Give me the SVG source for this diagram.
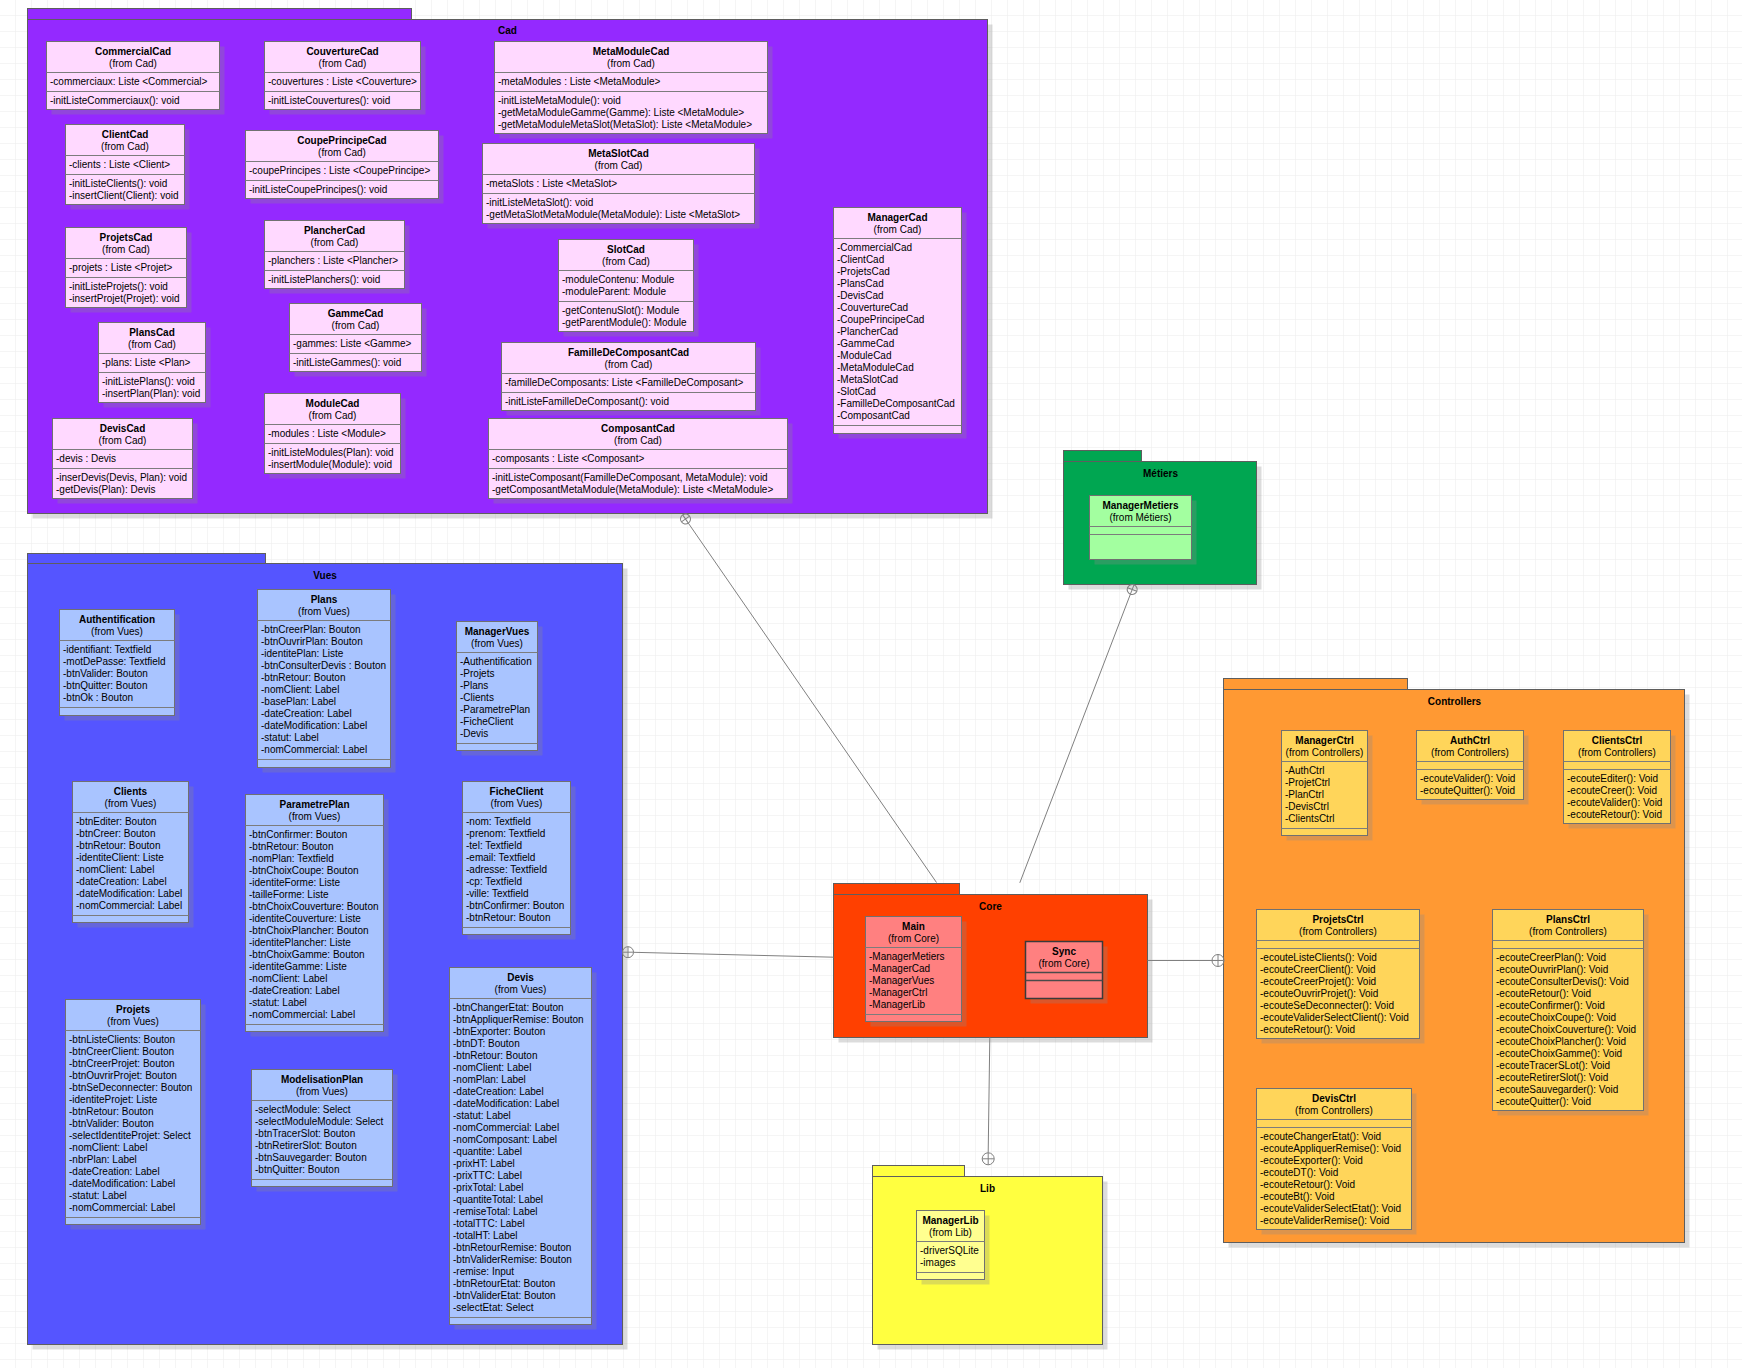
<svg xmlns="http://www.w3.org/2000/svg" width="1742" height="1368" viewBox="0 0 1742 1368">
<defs>
<pattern id="grid" x="15" y="15" width="16" height="16" patternUnits="userSpaceOnUse">
<path d="M16 0H0V16" fill="none" stroke="#ececec" stroke-width="1"/>
</pattern>
<style>
.pk{stroke:#5e5e5e;stroke-width:1}
.cl{stroke:#707070;stroke-width:1}
.sp{stroke:#7c7c7c;stroke-width:1}
.sh{fill:#8a8a8a;fill-opacity:0.3;stroke:none}
.n{font-family:"Liberation Sans",Arial,sans-serif;font-size:10px;font-weight:bold;text-anchor:middle;fill:#000}
.f{font-family:"Liberation Sans",Arial,sans-serif;font-size:10px;text-anchor:middle;fill:#000}
.a{font-family:"Liberation Sans",Arial,sans-serif;font-size:10px;fill:#000}
.pt{font-family:"Liberation Sans",Arial,sans-serif;font-size:10px;font-weight:bold;text-anchor:middle;fill:#000}
.cad{fill:#9429ff}.cadc{fill:#ffd9ff}
.vue{fill:#5555ff}.vuec{fill:#a9c4ff}
.ctl{fill:#ff9933}.ctlc{fill:#ffd55a}
.met{fill:#00a651}.metc{fill:#a3ffa0}
.cor{fill:#ff4000}.corc{fill:#ff8080}
.lib{fill:#ffff40}.libc{fill:#ffff90}
.cn{stroke:#808080;stroke-width:1;fill:none}
.ci{stroke:#808080;stroke-width:1;fill:#fff;fill-opacity:0}
</style>
</defs>
<rect width="1742" height="1368" fill="#fff"/>
<rect width="1742" height="1368" fill="url(#grid)"/>
<g transform="translate(0.5 0.5)">

<!-- Packages -->
<g id="pkg-Cad">
<rect class="sh" x="32" y="24" width="960" height="494"/>
<rect class="cad pk" x="27" y="8" width="384" height="11"/>
<rect class="cad pk" x="27" y="19" width="960" height="494"/>
<text class="pt" x="507" y="33.5">Cad</text>
</g>
<g id="pkg-Vues">
<rect class="sh" x="32" y="568" width="595" height="781"/>
<rect class="vue pk" x="27" y="553" width="238" height="10"/>
<rect class="vue pk" x="27" y="563" width="595" height="781"/>
<text class="pt" x="324.5" y="578">Vues</text>
</g>
<g id="pkg-Controllers">
<rect class="sh" x="1228" y="694" width="461" height="553"/>
<rect class="ctl pk" x="1223" y="678" width="184" height="11"/>
<rect class="ctl pk" x="1223" y="689" width="461" height="553"/>
<text class="pt" x="1454" y="704">Controllers</text>
</g>
<g id="pkg-Metiers">
<rect class="sh" x="1068" y="466" width="193" height="123"/>
<rect class="met pk" x="1063" y="450" width="78" height="11"/>
<rect class="met pk" x="1063" y="461" width="193" height="123"/>
<text class="pt" x="1160" y="476">Métiers</text>
</g>
<g id="pkg-Core">
<rect class="sh" x="838" y="899" width="314" height="143"/>
<rect class="cor pk" x="833" y="883" width="126" height="11"/>
<rect class="cor pk" x="833" y="894" width="314" height="143"/>
<text class="pt" x="990" y="909">Core</text>
</g>
<g id="pkg-Lib">
<rect class="sh" x="877" y="1181" width="230" height="168"/>
<rect class="lib pk" x="872" y="1165" width="92" height="11"/>
<rect class="lib pk" x="872" y="1176" width="230" height="168"/>
<text class="pt" x="987" y="1191">Lib</text>
</g>

<!-- Cad classes -->
<g id="CommercialCad">
<rect class="sh" x="51" y="46" width="173" height="68"/>
<rect class="cadc cl" x="46" y="41" width="173" height="68"/>
<line class="sp" x1="46" y1="72" x2="219" y2="72"/><line class="sp" x1="46" y1="91" x2="219" y2="91"/>
<text class="n" x="132.5" y="54.5">CommercialCad</text><text class="f" x="132.5" y="66.5">(from Cad)</text>
<text class="a" x="49.5" y="84.5">-commerciaux: Liste &lt;Commercial&gt;</text>
<text class="a" x="49.5" y="103.5">-initListeCommerciaux(): void</text>
</g>
<g id="CouvertureCad">
<rect class="sh" x="269" y="46" width="156" height="68"/>
<rect class="cadc cl" x="264" y="41" width="156" height="68"/>
<line class="sp" x1="264" y1="72" x2="420" y2="72"/><line class="sp" x1="264" y1="91" x2="420" y2="91"/>
<text class="n" x="342" y="54.5">CouvertureCad</text><text class="f" x="342" y="66.5">(from Cad)</text>
<text class="a" x="267.5" y="84.5">-couvertures : Liste &lt;Couverture&gt;</text>
<text class="a" x="267.5" y="103.5">-initListeCouvertures(): void</text>
</g>
<g id="ClientCad">
<rect class="sh" x="70" y="129" width="119" height="80"/>
<rect class="cadc cl" x="65" y="124" width="119" height="80"/>
<line class="sp" x1="65" y1="155" x2="184" y2="155"/><line class="sp" x1="65" y1="174" x2="184" y2="174"/>
<text class="n" x="124.5" y="137.5">ClientCad</text><text class="f" x="124.5" y="149.5">(from Cad)</text>
<text class="a" x="68.5" y="167.5">-clients : Liste &lt;Client&gt;</text>
<text class="a" x="68.5" y="186.5">-initListeClients(): void</text>
<text class="a" x="68.5" y="198.5">-insertClient(Client): void</text>
</g>
<g id="CoupePrincipeCad">
<rect class="sh" x="250" y="135" width="193" height="68"/>
<rect class="cadc cl" x="245" y="130" width="193" height="68"/>
<line class="sp" x1="245" y1="161" x2="438" y2="161"/><line class="sp" x1="245" y1="180" x2="438" y2="180"/>
<text class="n" x="341.5" y="143.5">CoupePrincipeCad</text><text class="f" x="341.5" y="155.5">(from Cad)</text>
<text class="a" x="248.5" y="173.5">-coupePrincipes : Liste &lt;CoupePrincipe&gt;</text>
<text class="a" x="248.5" y="192.5">-initListeCoupePrincipes(): void</text>
</g>
<g id="ProjetsCad">
<rect class="sh" x="70" y="232" width="121" height="80"/>
<rect class="cadc cl" x="65" y="227" width="121" height="80"/>
<line class="sp" x1="65" y1="258" x2="186" y2="258"/><line class="sp" x1="65" y1="277" x2="186" y2="277"/>
<text class="n" x="125.5" y="240.5">ProjetsCad</text><text class="f" x="125.5" y="252.5">(from Cad)</text>
<text class="a" x="68.5" y="270.5">-projets : Liste &lt;Projet&gt;</text>
<text class="a" x="68.5" y="289.5">-initListeProjets(): void</text>
<text class="a" x="68.5" y="301.5">-insertProjet(Projet): void</text>
</g>
<g id="PlancherCad">
<rect class="sh" x="269" y="225" width="140" height="68"/>
<rect class="cadc cl" x="264" y="220" width="140" height="68"/>
<line class="sp" x1="264" y1="251" x2="404" y2="251"/><line class="sp" x1="264" y1="270" x2="404" y2="270"/>
<text class="n" x="334" y="233.5">PlancherCad</text><text class="f" x="334" y="245.5">(from Cad)</text>
<text class="a" x="267.5" y="263.5">-planchers : Liste &lt;Plancher&gt;</text>
<text class="a" x="267.5" y="282.5">-initListePlanchers(): void</text>
</g>
<g id="PlansCad">
<rect class="sh" x="103" y="327" width="107" height="80"/>
<rect class="cadc cl" x="98" y="322" width="107" height="80"/>
<line class="sp" x1="98" y1="353" x2="205" y2="353"/><line class="sp" x1="98" y1="372" x2="205" y2="372"/>
<text class="n" x="151.5" y="335.5">PlansCad</text><text class="f" x="151.5" y="347.5">(from Cad)</text>
<text class="a" x="101.5" y="365.5">-plans: Liste &lt;Plan&gt;</text>
<text class="a" x="101.5" y="384.5">-initListePlans(): void</text>
<text class="a" x="101.5" y="396.5">-insertPlan(Plan): void</text>
</g>
<g id="GammeCad">
<rect class="sh" x="294" y="308" width="132" height="68"/>
<rect class="cadc cl" x="289" y="303" width="132" height="68"/>
<line class="sp" x1="289" y1="334" x2="421" y2="334"/><line class="sp" x1="289" y1="353" x2="421" y2="353"/>
<text class="n" x="355" y="316.5">GammeCad</text><text class="f" x="355" y="328.5">(from Cad)</text>
<text class="a" x="292.5" y="346.5">-gammes: Liste &lt;Gamme&gt;</text>
<text class="a" x="292.5" y="365.5">-initListeGammes(): void</text>
</g>
<g id="DevisCad">
<rect class="sh" x="57" y="423" width="140" height="80"/>
<rect class="cadc cl" x="52" y="418" width="140" height="80"/>
<line class="sp" x1="52" y1="449" x2="192" y2="449"/><line class="sp" x1="52" y1="468" x2="192" y2="468"/>
<text class="n" x="122" y="431.5">DevisCad</text><text class="f" x="122" y="443.5">(from Cad)</text>
<text class="a" x="55.5" y="461.5">-devis : Devis</text>
<text class="a" x="55.5" y="480.5">-inserDevis(Devis, Plan): void</text>
<text class="a" x="55.5" y="492.5">-getDevis(Plan): Devis</text>
</g>
<g id="ModuleCad">
<rect class="sh" x="269" y="398" width="136" height="80"/>
<rect class="cadc cl" x="264" y="393" width="136" height="80"/>
<line class="sp" x1="264" y1="424" x2="400" y2="424"/><line class="sp" x1="264" y1="443" x2="400" y2="443"/>
<text class="n" x="332" y="406.5">ModuleCad</text><text class="f" x="332" y="418.5">(from Cad)</text>
<text class="a" x="267.5" y="436.5">-modules : Liste &lt;Module&gt;</text>
<text class="a" x="267.5" y="455.5">-initListeModules(Plan): void</text>
<text class="a" x="267.5" y="467.5">-insertModule(Module): void</text>
</g>
<g id="MetaModuleCad">
<rect class="sh" x="499" y="46" width="273" height="92"/>
<rect class="cadc cl" x="494" y="41" width="273" height="92"/>
<line class="sp" x1="494" y1="72" x2="767" y2="72"/><line class="sp" x1="494" y1="91" x2="767" y2="91"/>
<text class="n" x="630.5" y="54.5">MetaModuleCad</text><text class="f" x="630.5" y="66.5">(from Cad)</text>
<text class="a" x="497.5" y="84.5">-metaModules : Liste &lt;MetaModule&gt;</text>
<text class="a" x="497.5" y="103.5">-initListeMetaModule(): void</text>
<text class="a" x="497.5" y="115.5">-getMetaModuleGamme(Gamme): Liste &lt;MetaModule&gt;</text>
<text class="a" x="497.5" y="127.5">-getMetaModuleMetaSlot(MetaSlot): Liste &lt;MetaModule&gt;</text>
</g>
<g id="MetaSlotCad">
<rect class="sh" x="487" y="148" width="272" height="80"/>
<rect class="cadc cl" x="482" y="143" width="272" height="80"/>
<line class="sp" x1="482" y1="174" x2="754" y2="174"/><line class="sp" x1="482" y1="193" x2="754" y2="193"/>
<text class="n" x="618" y="156.5">MetaSlotCad</text><text class="f" x="618" y="168.5">(from Cad)</text>
<text class="a" x="485.5" y="186.5">-metaSlots : Liste &lt;MetaSlot&gt;</text>
<text class="a" x="485.5" y="205.5">-initListeMetaSlot(): void</text>
<text class="a" x="485.5" y="217.5">-getMetaSlotMetaModule(MetaModule): Liste &lt;MetaSlot&gt;</text>
</g>
<g id="SlotCad">
<rect class="sh" x="563" y="244" width="135" height="92"/>
<rect class="cadc cl" x="558" y="239" width="135" height="92"/>
<line class="sp" x1="558" y1="270" x2="693" y2="270"/><line class="sp" x1="558" y1="301" x2="693" y2="301"/>
<text class="n" x="625.5" y="252.5">SlotCad</text><text class="f" x="625.5" y="264.5">(from Cad)</text>
<text class="a" x="561.5" y="282.5">-moduleContenu: Module</text>
<text class="a" x="561.5" y="294.5">-moduleParent: Module</text>
<text class="a" x="561.5" y="313.5">-getContenuSlot(): Module</text>
<text class="a" x="561.5" y="325.5">-getParentModule(): Module</text>
</g>
<g id="FamilleDeComposantCad">
<rect class="sh" x="506" y="347" width="254" height="68"/>
<rect class="cadc cl" x="501" y="342" width="254" height="68"/>
<line class="sp" x1="501" y1="373" x2="755" y2="373"/><line class="sp" x1="501" y1="392" x2="755" y2="392"/>
<text class="n" x="628" y="355.5">FamilleDeComposantCad</text><text class="f" x="628" y="367.5">(from Cad)</text>
<text class="a" x="504.5" y="385.5">-familleDeComposants: Liste &lt;FamilleDeComposant&gt;</text>
<text class="a" x="504.5" y="404.5">-initListeFamilleDeComposant(): void</text>
</g>
<g id="ComposantCad">
<rect class="sh" x="493" y="423" width="299" height="80"/>
<rect class="cadc cl" x="488" y="418" width="299" height="80"/>
<line class="sp" x1="488" y1="449" x2="787" y2="449"/><line class="sp" x1="488" y1="468" x2="787" y2="468"/>
<text class="n" x="637.5" y="431.5">ComposantCad</text><text class="f" x="637.5" y="443.5">(from Cad)</text>
<text class="a" x="491.5" y="461.5">-composants : Liste &lt;Composant&gt;</text>
<text class="a" x="491.5" y="480.5">-initListeComposant(FamilleDeComposant, MetaModule): void</text>
<text class="a" x="491.5" y="492.5">-getComposantMetaModule(MetaModule): Liste &lt;MetaModule&gt;</text>
</g>
<g id="ManagerCad">
<rect class="sh" x="838" y="212" width="128" height="226"/>
<rect class="cadc cl" x="833" y="207" width="128" height="226"/>
<line class="sp" x1="833" y1="238" x2="961" y2="238"/><line class="sp" x1="833" y1="425" x2="961" y2="425"/>
<text class="n" x="897" y="220.5">ManagerCad</text><text class="f" x="897" y="232.5">(from Cad)</text>
<text class="a" y="250.5"><tspan x="836.5">-CommercialCad</tspan><tspan x="836.5" dy="12">-ClientCad</tspan><tspan x="836.5" dy="12">-ProjetsCad</tspan><tspan x="836.5" dy="12">-PlansCad</tspan><tspan x="836.5" dy="12">-DevisCad</tspan><tspan x="836.5" dy="12">-CouvertureCad</tspan><tspan x="836.5" dy="12">-CoupePrincipeCad</tspan><tspan x="836.5" dy="12">-PlancherCad</tspan><tspan x="836.5" dy="12">-GammeCad</tspan><tspan x="836.5" dy="12">-ModuleCad</tspan><tspan x="836.5" dy="12">-MetaModuleCad</tspan><tspan x="836.5" dy="12">-MetaSlotCad</tspan><tspan x="836.5" dy="12">-SlotCad</tspan><tspan x="836.5" dy="12">-FamilleDeComposantCad</tspan><tspan x="836.5" dy="12">-ComposantCad</tspan></text>
</g>

<!-- Vues classes -->
<g id="Authentification">
<rect class="sh" x="64" y="614" width="115" height="106"/>
<rect class="vuec cl" x="59" y="609" width="115" height="106"/>
<line class="sp" x1="59" y1="640" x2="174" y2="640"/><line class="sp" x1="59" y1="707" x2="174" y2="707"/>
<text class="n" x="116.5" y="622.5">Authentification</text><text class="f" x="116.5" y="634.5">(from Vues)</text>
<text class="a" y="652.5"><tspan x="62.5">-identifiant: Textfield</tspan><tspan x="62.5" dy="12">-motDePasse: Textfield</tspan><tspan x="62.5" dy="12">-btnValider: Bouton</tspan><tspan x="62.5" dy="12">-btnQuitter: Bouton</tspan><tspan x="62.5" dy="12">-btnOk : Bouton</tspan></text>
</g>
<g id="Plans">
<rect class="sh" x="262" y="594" width="133" height="178"/>
<rect class="vuec cl" x="257" y="589" width="133" height="178"/>
<line class="sp" x1="257" y1="620" x2="390" y2="620"/><line class="sp" x1="257" y1="759" x2="390" y2="759"/>
<text class="n" x="323.5" y="602.5">Plans</text><text class="f" x="323.5" y="614.5">(from Vues)</text>
<text class="a" y="632.5"><tspan x="260.5">-btnCreerPlan: Bouton</tspan><tspan x="260.5" dy="12">-btnOuvrirPlan: Bouton</tspan><tspan x="260.5" dy="12">-identitePlan: Liste</tspan><tspan x="260.5" dy="12">-btnConsulterDevis : Bouton</tspan><tspan x="260.5" dy="12">-btnRetour: Bouton</tspan><tspan x="260.5" dy="12">-nomClient: Label</tspan><tspan x="260.5" dy="12">-basePlan: Label</tspan><tspan x="260.5" dy="12">-dateCreation: Label</tspan><tspan x="260.5" dy="12">-dateModification: Label</tspan><tspan x="260.5" dy="12">-statut: Label</tspan><tspan x="260.5" dy="12">-nomCommercial: Label</tspan></text>
</g>
<g id="ManagerVues">
<rect class="sh" x="461" y="626" width="81" height="129"/>
<rect class="vuec cl" x="456" y="621" width="81" height="129"/>
<line class="sp" x1="456" y1="652" x2="537" y2="652"/><line class="sp" x1="456" y1="743" x2="537" y2="743"/>
<text class="n" x="496.5" y="634.5">ManagerVues</text><text class="f" x="496.5" y="646.5">(from Vues)</text>
<text class="a" y="664.5"><tspan x="459.5">-Authentification</tspan><tspan x="459.5" dy="12">-Projets</tspan><tspan x="459.5" dy="12">-Plans</tspan><tspan x="459.5" dy="12">-Clients</tspan><tspan x="459.5" dy="12">-ParametrePlan</tspan><tspan x="459.5" dy="12">-FicheClient</tspan><tspan x="459.5" dy="12">-Devis</tspan></text>
</g>
<g id="Clients">
<rect class="sh" x="77" y="786" width="116" height="141"/>
<rect class="vuec cl" x="72" y="781" width="116" height="141"/>
<line class="sp" x1="72" y1="812" x2="188" y2="812"/><line class="sp" x1="72" y1="915" x2="188" y2="915"/>
<text class="n" x="130" y="794.5">Clients</text><text class="f" x="130" y="806.5">(from Vues)</text>
<text class="a" y="824.5"><tspan x="75.5">-btnEditer: Bouton</tspan><tspan x="75.5" dy="12">-btnCreer: Bouton</tspan><tspan x="75.5" dy="12">-btnRetour: Bouton</tspan><tspan x="75.5" dy="12">-identiteClient: Liste</tspan><tspan x="75.5" dy="12">-nomClient: Label</tspan><tspan x="75.5" dy="12">-dateCreation: Label</tspan><tspan x="75.5" dy="12">-dateModification: Label</tspan><tspan x="75.5" dy="12">-nomCommercial: Label</tspan></text>
</g>
<g id="ParametrePlan">
<rect class="sh" x="250" y="799" width="138" height="237"/>
<rect class="vuec cl" x="245" y="794" width="138" height="237"/>
<line class="sp" x1="245" y1="825" x2="383" y2="825"/><line class="sp" x1="245" y1="1024" x2="383" y2="1024"/>
<text class="n" x="314" y="807.5">ParametrePlan</text><text class="f" x="314" y="819.5">(from Vues)</text>
<text class="a" y="837.5"><tspan x="248.5">-btnConfirmer: Bouton</tspan><tspan x="248.5" dy="12">-btnRetour: Bouton</tspan><tspan x="248.5" dy="12">-nomPlan: Textfield</tspan><tspan x="248.5" dy="12">-btnChoixCoupe: Bouton</tspan><tspan x="248.5" dy="12">-identiteForme: Liste</tspan><tspan x="248.5" dy="12">-tailleForme: Liste</tspan><tspan x="248.5" dy="12">-btnChoixCouverture: Bouton</tspan><tspan x="248.5" dy="12">-identiteCouverture: Liste</tspan><tspan x="248.5" dy="12">-btnChoixPlancher: Bouton</tspan><tspan x="248.5" dy="12">-identitePlancher: Liste</tspan><tspan x="248.5" dy="12">-btnChoixGamme: Bouton</tspan><tspan x="248.5" dy="12">-identiteGamme: Liste</tspan><tspan x="248.5" dy="12">-nomClient: Label</tspan><tspan x="248.5" dy="12">-dateCreation: Label</tspan><tspan x="248.5" dy="12">-statut: Label</tspan><tspan x="248.5" dy="12">-nomCommercial: Label</tspan></text>
</g>
<g id="FicheClient">
<rect class="sh" x="467" y="786" width="108" height="153"/>
<rect class="vuec cl" x="462" y="781" width="108" height="153"/>
<line class="sp" x1="462" y1="812" x2="570" y2="812"/><line class="sp" x1="462" y1="927" x2="570" y2="927"/>
<text class="n" x="516" y="794.5">FicheClient</text><text class="f" x="516" y="806.5">(from Vues)</text>
<text class="a" y="824.5"><tspan x="465.5">-nom: Textfield</tspan><tspan x="465.5" dy="12">-prenom: Textfield</tspan><tspan x="465.5" dy="12">-tel: Textfield</tspan><tspan x="465.5" dy="12">-email: Textfield</tspan><tspan x="465.5" dy="12">-adresse: Textfield</tspan><tspan x="465.5" dy="12">-cp: Textfield</tspan><tspan x="465.5" dy="12">-ville: Textfield</tspan><tspan x="465.5" dy="12">-btnConfirmer: Bouton</tspan><tspan x="465.5" dy="12">-btnRetour: Bouton</tspan></text>
</g>
<g id="Projets">
<rect class="sh" x="70" y="1004" width="135" height="225"/>
<rect class="vuec cl" x="65" y="999" width="135" height="225"/>
<line class="sp" x1="65" y1="1030" x2="200" y2="1030"/><line class="sp" x1="65" y1="1217" x2="200" y2="1217"/>
<text class="n" x="132.5" y="1012.5">Projets</text><text class="f" x="132.5" y="1024.5">(from Vues)</text>
<text class="a" y="1042.5"><tspan x="68.5">-btnListeClients: Bouton</tspan><tspan x="68.5" dy="12">-btnCreerClient: Bouton</tspan><tspan x="68.5" dy="12">-btnCreerProjet: Bouton</tspan><tspan x="68.5" dy="12">-btnOuvrirProjet: Bouton</tspan><tspan x="68.5" dy="12">-btnSeDeconnecter: Bouton</tspan><tspan x="68.5" dy="12">-identiteProjet: Liste</tspan><tspan x="68.5" dy="12">-btnRetour: Bouton</tspan><tspan x="68.5" dy="12">-btnValider: Bouton</tspan><tspan x="68.5" dy="12">-selectIdentiteProjet: Select</tspan><tspan x="68.5" dy="12">-nomClient: Label</tspan><tspan x="68.5" dy="12">-nbrPlan: Label</tspan><tspan x="68.5" dy="12">-dateCreation: Label</tspan><tspan x="68.5" dy="12">-dateModification: Label</tspan><tspan x="68.5" dy="12">-statut: Label</tspan><tspan x="68.5" dy="12">-nomCommercial: Label</tspan></text>
</g>
<g id="ModelisationPlan">
<rect class="sh" x="256" y="1074" width="141" height="117"/>
<rect class="vuec cl" x="251" y="1069" width="141" height="117"/>
<line class="sp" x1="251" y1="1100" x2="392" y2="1100"/><line class="sp" x1="251" y1="1179" x2="392" y2="1179"/>
<text class="n" x="321.5" y="1082.5">ModelisationPlan</text><text class="f" x="321.5" y="1094.5">(from Vues)</text>
<text class="a" y="1112.5"><tspan x="254.5">-selectModule: Select</tspan><tspan x="254.5" dy="12">-selectModuleModule: Select</tspan><tspan x="254.5" dy="12">-btnTracerSlot: Bouton</tspan><tspan x="254.5" dy="12">-btnRetirerSlot: Bouton</tspan><tspan x="254.5" dy="12">-btnSauvegarder: Bouton</tspan><tspan x="254.5" dy="12">-btnQuitter: Bouton</tspan></text>
</g>
<g id="Devis">
<rect class="sh" x="454" y="972" width="142" height="357"/>
<rect class="vuec cl" x="449" y="967" width="142" height="357"/>
<line class="sp" x1="449" y1="998" x2="591" y2="998"/><line class="sp" x1="449" y1="1317" x2="591" y2="1317"/>
<text class="n" x="520" y="980.5">Devis</text><text class="f" x="520" y="992.5">(from Vues)</text>
<text class="a" y="1010.5"><tspan x="452.5">-btnChangerEtat: Bouton</tspan><tspan x="452.5" dy="12">-btnAppliquerRemise: Bouton</tspan><tspan x="452.5" dy="12">-btnExporter: Bouton</tspan><tspan x="452.5" dy="12">-btnDT: Bouton</tspan><tspan x="452.5" dy="12">-btnRetour: Bouton</tspan><tspan x="452.5" dy="12">-nomClient: Label</tspan><tspan x="452.5" dy="12">-nomPlan: Label</tspan><tspan x="452.5" dy="12">-dateCreation: Label</tspan><tspan x="452.5" dy="12">-dateModification: Label</tspan><tspan x="452.5" dy="12">-statut: Label</tspan><tspan x="452.5" dy="12">-nomCommercial: Label</tspan><tspan x="452.5" dy="12">-nomComposant: Label</tspan><tspan x="452.5" dy="12">-quantite: Label</tspan><tspan x="452.5" dy="12">-prixHT: Label</tspan><tspan x="452.5" dy="12">-prixTTC: Label</tspan><tspan x="452.5" dy="12">-prixTotal: Label</tspan><tspan x="452.5" dy="12">-quantiteTotal: Label</tspan><tspan x="452.5" dy="12">-remiseTotal: Label</tspan><tspan x="452.5" dy="12">-totalTTC: Label</tspan><tspan x="452.5" dy="12">-totalHT: Label</tspan><tspan x="452.5" dy="12">-btnRetourRemise: Bouton</tspan><tspan x="452.5" dy="12">-btnValiderRemise: Bouton</tspan><tspan x="452.5" dy="12">-remise: Input</tspan><tspan x="452.5" dy="12">-btnRetourEtat: Bouton</tspan><tspan x="452.5" dy="12">-btnValiderEtat: Bouton</tspan><tspan x="452.5" dy="12">-selectEtat: Select</tspan></text>
</g>

<!-- Controllers classes -->
<g id="ManagerCtrl">
<rect class="sh" x="1286" y="735" width="86" height="105"/>
<rect class="ctlc cl" x="1281" y="730" width="86" height="105"/>
<line class="sp" x1="1281" y1="761" x2="1367" y2="761"/><line class="sp" x1="1281" y1="828" x2="1367" y2="828"/>
<text class="n" x="1324" y="743.5">ManagerCtrl</text><text class="f" x="1324" y="755.5">(from Controllers)</text>
<text class="a" y="773.5"><tspan x="1284.5">-AuthCtrl</tspan><tspan x="1284.5" dy="12">-ProjetCtrl</tspan><tspan x="1284.5" dy="12">-PlanCtrl</tspan><tspan x="1284.5" dy="12">-DevisCtrl</tspan><tspan x="1284.5" dy="12">-ClientsCtrl</tspan></text>
</g>
<g id="AuthCtrl">
<rect class="sh" x="1421" y="735" width="107" height="69"/>
<rect class="ctlc cl" x="1416" y="730" width="107" height="69"/>
<line class="sp" x1="1416" y1="761" x2="1523" y2="761"/><line class="sp" x1="1416" y1="769" x2="1523" y2="769"/>
<text class="n" x="1469.5" y="743.5">AuthCtrl</text><text class="f" x="1469.5" y="755.5">(from Controllers)</text>
<text class="a" y="781.5"><tspan x="1419.5">-ecouteValider(): Void</tspan><tspan x="1419.5" dy="12">-ecouteQuitter(): Void</tspan></text>
</g>
<g id="ClientsCtrl">
<rect class="sh" x="1568" y="735" width="107" height="93"/>
<rect class="ctlc cl" x="1563" y="730" width="107" height="93"/>
<line class="sp" x1="1563" y1="761" x2="1670" y2="761"/><line class="sp" x1="1563" y1="769" x2="1670" y2="769"/>
<text class="n" x="1616.5" y="743.5">ClientsCtrl</text><text class="f" x="1616.5" y="755.5">(from Controllers)</text>
<text class="a" y="781.5"><tspan x="1566.5">-ecouteEditer(): Void</tspan><tspan x="1566.5" dy="12">-ecouteCreer(): Void</tspan><tspan x="1566.5" dy="12">-ecouteValider(): Void</tspan><tspan x="1566.5" dy="12">-ecouteRetour(): Void</tspan></text>
</g>
<g id="ProjetsCtrl">
<rect class="sh" x="1261" y="914" width="163" height="129"/>
<rect class="ctlc cl" x="1256" y="909" width="163" height="129"/>
<line class="sp" x1="1256" y1="940" x2="1419" y2="940"/><line class="sp" x1="1256" y1="948" x2="1419" y2="948"/>
<text class="n" x="1337.5" y="922.5">ProjetsCtrl</text><text class="f" x="1337.5" y="934.5">(from Controllers)</text>
<text class="a" y="960.5"><tspan x="1259.5">-ecouteListeClients(): Void</tspan><tspan x="1259.5" dy="12">-ecouteCreerClient(): Void</tspan><tspan x="1259.5" dy="12">-ecouteCreerProjet(): Void</tspan><tspan x="1259.5" dy="12">-ecouteOuvrirProjet(): Void</tspan><tspan x="1259.5" dy="12">-ecouteSeDeconnecter(): Void</tspan><tspan x="1259.5" dy="12">-ecouteValiderSelectClient(): Void</tspan><tspan x="1259.5" dy="12">-ecouteRetour(): Void</tspan></text>
</g>
<g id="PlansCtrl">
<rect class="sh" x="1497" y="914" width="151" height="201"/>
<rect class="ctlc cl" x="1492" y="909" width="151" height="201"/>
<line class="sp" x1="1492" y1="940" x2="1643" y2="940"/><line class="sp" x1="1492" y1="948" x2="1643" y2="948"/>
<text class="n" x="1567.5" y="922.5">PlansCtrl</text><text class="f" x="1567.5" y="934.5">(from Controllers)</text>
<text class="a" y="960.5"><tspan x="1495.5">-ecouteCreerPlan(): Void</tspan><tspan x="1495.5" dy="12">-ecouteOuvrirPlan(): Void</tspan><tspan x="1495.5" dy="12">-ecouteConsulterDevis(): Void</tspan><tspan x="1495.5" dy="12">-ecouteRetour(): Void</tspan><tspan x="1495.5" dy="12">-ecouteConfirmer(): Void</tspan><tspan x="1495.5" dy="12">-ecouteChoixCoupe(): Void</tspan><tspan x="1495.5" dy="12">-ecouteChoixCouverture(): Void</tspan><tspan x="1495.5" dy="12">-ecouteChoixPlancher(): Void</tspan><tspan x="1495.5" dy="12">-ecouteChoixGamme(): Void</tspan><tspan x="1495.5" dy="12">-ecouteTracerSLot(): Void</tspan><tspan x="1495.5" dy="12">-ecouteRetirerSlot(): Void</tspan><tspan x="1495.5" dy="12">-ecouteSauvegarder(): Void</tspan><tspan x="1495.5" dy="12">-ecouteQuitter(): Void</tspan></text>
</g>
<g id="DevisCtrl">
<rect class="sh" x="1261" y="1093" width="155" height="141"/>
<rect class="ctlc cl" x="1256" y="1088" width="155" height="141"/>
<line class="sp" x1="1256" y1="1119" x2="1411" y2="1119"/><line class="sp" x1="1256" y1="1127" x2="1411" y2="1127"/>
<text class="n" x="1333.5" y="1101.5">DevisCtrl</text><text class="f" x="1333.5" y="1113.5">(from Controllers)</text>
<text class="a" y="1139.5"><tspan x="1259.5">-ecouteChangerEtat(): Void</tspan><tspan x="1259.5" dy="12">-ecouteAppliquerRemise(): Void</tspan><tspan x="1259.5" dy="12">-ecouteExporter(): Void</tspan><tspan x="1259.5" dy="12">-ecouteDT(): Void</tspan><tspan x="1259.5" dy="12">-ecouteRetour(): Void</tspan><tspan x="1259.5" dy="12">-ecouteBt(): Void</tspan><tspan x="1259.5" dy="12">-ecouteValiderSelectEtat(): Void</tspan><tspan x="1259.5" dy="12">-ecouteValiderRemise(): Void</tspan></text>
</g>

<!-- Metiers class -->
<g id="ManagerMetiers">
<rect class="sh" x="1094" y="500" width="102" height="64"/>
<rect class="metc cl" x="1089" y="495" width="102" height="64"/>
<line class="sp" x1="1089" y1="526" x2="1191" y2="526"/><line class="sp" x1="1089" y1="534" x2="1191" y2="534"/>
<text class="n" x="1140" y="508.5">ManagerMetiers</text><text class="f" x="1140" y="520.5">(from Métiers)</text>
</g>

<!-- Core classes -->
<g id="Main">
<rect class="sh" x="870" y="921" width="96" height="105"/>
<rect class="corc cl" x="865" y="916" width="96" height="105"/>
<line class="sp" x1="865" y1="947" x2="961" y2="947"/><line class="sp" x1="865" y1="1014" x2="961" y2="1014"/>
<text class="n" x="913" y="929.5">Main</text><text class="f" x="913" y="941.5">(from Core)</text>
<text class="a" y="959.5"><tspan x="868.5">-ManagerMetiers</tspan><tspan x="868.5" dy="12">-ManagerCad</tspan><tspan x="868.5" dy="12">-ManagerVues</tspan><tspan x="868.5" dy="12">-ManagerCtrl</tspan><tspan x="868.5" dy="12">-ManagerLib</tspan></text>
</g>
<g id="Sync">
<rect class="sh" x="1030" y="946" width="77" height="57"/>
<rect class="corc" x="1025" y="941" width="77" height="57" stroke="#3a3a3a" stroke-width="1.5"/>
<line x1="1025" y1="972" x2="1102" y2="972" stroke="#4a4a4a" stroke-width="1.5"/><line x1="1025" y1="980" x2="1102" y2="980" stroke="#4a4a4a" stroke-width="1.5"/>
<text class="n" x="1063.5" y="954.5">Sync</text><text class="f" x="1063.5" y="966.5">(from Core)</text>
</g>

<!-- Lib class -->
<g id="ManagerLib">
<rect class="sh" x="921" y="1215" width="68" height="69"/>
<rect class="libc cl" x="916" y="1210" width="68" height="69"/>
<line class="sp" x1="916" y1="1241" x2="984" y2="1241"/><line class="sp" x1="916" y1="1272" x2="984" y2="1272"/>
<text class="n" x="950" y="1223.5">ManagerLib</text><text class="f" x="950" y="1235.5">(from Lib)</text>
<text class="a" y="1253.5"><tspan x="919.5">-driverSQLite</tspan><tspan x="919.5" dy="12">-images</tspan></text>
</g>

<!-- Connectors -->
<g id="connectors">
<line class="cn" x1="687.8" y1="522.6" x2="936" y2="882"/>
<g transform="translate(685 518.5) rotate(55.4)"><circle class="ci" r="5"/><path class="cn" d="M-5 0H5M0 -5V5"/></g>
<line class="cn" x1="1129.9" y1="593.7" x2="1019.3" y2="882.3"/>
<g transform="translate(1131.7 589) rotate(111)"><circle class="ci" r="5"/><path class="cn" d="M-5 0H5M0 -5V5"/></g>
<line class="cn" x1="633" y1="951.8" x2="833" y2="956.7"/>
<g transform="translate(627.5 951.7)"><circle class="ci" r="5.5"/><path class="cn" d="M-5.5 0H5.5M0 -5.5V5.5"/></g>
<line class="cn" x1="1147" y1="960" x2="1211.5" y2="960"/>
<g transform="translate(1217.5 960)"><circle class="ci" r="6"/><path class="cn" d="M-6 0H6M0 -6V6"/></g>
<line class="cn" x1="989.3" y1="1037" x2="987.7" y2="1152.3"/>
<g transform="translate(987.7 1158.3)"><circle class="ci" r="6"/><path class="cn" d="M-6 0H6M0 -6V6"/></g>
</g>
</g>
</svg>
